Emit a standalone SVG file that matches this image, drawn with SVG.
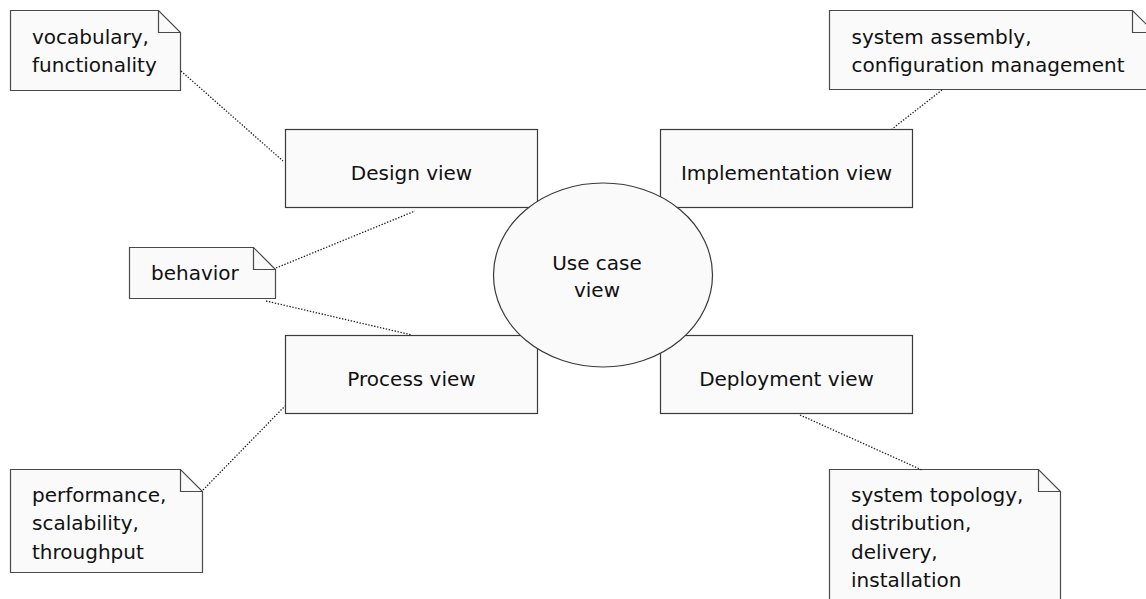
<svg xmlns="http://www.w3.org/2000/svg" width="1146" height="599" viewBox="0 0 1146 599">
<style>
.box{fill:#fafafa;stroke:#3a3a3a;stroke-width:1.2}
.note{fill:#fafafa;stroke:#4a4a4a;stroke-width:1.2}
.fold{fill:none;stroke:#4a4a4a;stroke-width:1.2}
.lbl{font-family:"DejaVu Sans",Verdana,sans-serif;font-size:20px;fill:#111}
.c{text-anchor:middle}
.conn{fill:none;stroke:#222;stroke-width:1.3;stroke-dasharray:1.4 1.6}
</style>
<rect width="1146" height="599" fill="#ffffff"/>

<g id="design-view">
<rect class="box" x="285.5" y="129.5" width="252" height="78"/>
<text class="lbl c" x="411.5" y="179.5">Design view</text>
</g>
<g id="implementation-view">
<rect class="box" x="660.5" y="129.5" width="252" height="78"/>
<text class="lbl c" x="786.5" y="179.5">Implementation view</text>
</g>
<g id="process-view">
<rect class="box" x="285.5" y="335.5" width="252" height="78"/>
<text class="lbl c" x="411.5" y="385.5">Process view</text>
</g>
<g id="deployment-view">
<rect class="box" x="660.5" y="335.5" width="252" height="78"/>
<text class="lbl c" x="786.5" y="385.5">Deployment view</text>
</g>
<g id="use-case-view">
<ellipse class="box" cx="603" cy="275" rx="109.5" ry="92"/>
<text class="lbl c" x="597" y="270">Use case</text>
<text class="lbl c" x="597" y="297">view</text>
</g>

<g id="note-vocabulary">
<path class="note" d="M10.5,10.5 H158.5 L180.5,32.5 V90.5 H10.5 Z"/>
<path class="fold" d="M158.5,10.5 V32.5 H180.5"/>
<text class="lbl" x="32" y="44">vocabulary,</text>
<text class="lbl" x="32" y="71.5">functionality</text>
</g>
<g id="note-system-assembly">
<path class="note" d="M829.5,10.5 H1132.5 L1154.5,32.5 V89.5 H829.5 Z"/>
<path class="fold" d="M1132.5,10.5 V32.5 H1154.5"/>
<text class="lbl" x="851.5" y="44">system assembly,</text>
<text class="lbl" x="851.5" y="71.5">configuration management</text>
</g>
<g id="note-behavior">
<path class="note" d="M129.5,247.5 H253.5 L275.5,269.5 V298.5 H129.5 Z"/>
<path class="fold" d="M253.5,247.5 V269.5 H275.5"/>
<text class="lbl" x="151" y="280">behavior</text>
</g>
<g id="note-performance">
<path class="note" d="M10.5,469.5 H180.5 L202.5,491.5 V572.5 H10.5 Z"/>
<path class="fold" d="M180.5,469.5 V491.5 H202.5"/>
<text class="lbl" x="32" y="502">performance,</text>
<text class="lbl" x="32" y="530">scalability,</text>
<text class="lbl" x="32" y="558.5">throughput</text>
</g>
<g id="note-system-topology">
<path class="note" d="M829.5,469.5 H1038.5 L1060.5,491.5 V620 H829.5 Z"/>
<path class="fold" d="M1038.5,469.5 V491.5 H1060.5"/>
<text class="lbl" x="851" y="502">system topology,</text>
<text class="lbl" x="851" y="530">distribution,</text>
<text class="lbl" x="851" y="558.5">delivery,</text>
<text class="lbl" x="851" y="587">installation</text>
</g>

<g id="connectors">
<line class="conn" x1="181" y1="71" x2="283" y2="161"/>
<line class="conn" x1="942" y1="90" x2="892" y2="129"/>
<line class="conn" x1="276" y1="268" x2="415" y2="211"/>
<line class="conn" x1="266" y1="301" x2="412" y2="335"/>
<line class="conn" x1="203" y1="490" x2="285" y2="406"/>
<line class="conn" x1="800" y1="415" x2="922" y2="470"/>
</g>
</svg>
